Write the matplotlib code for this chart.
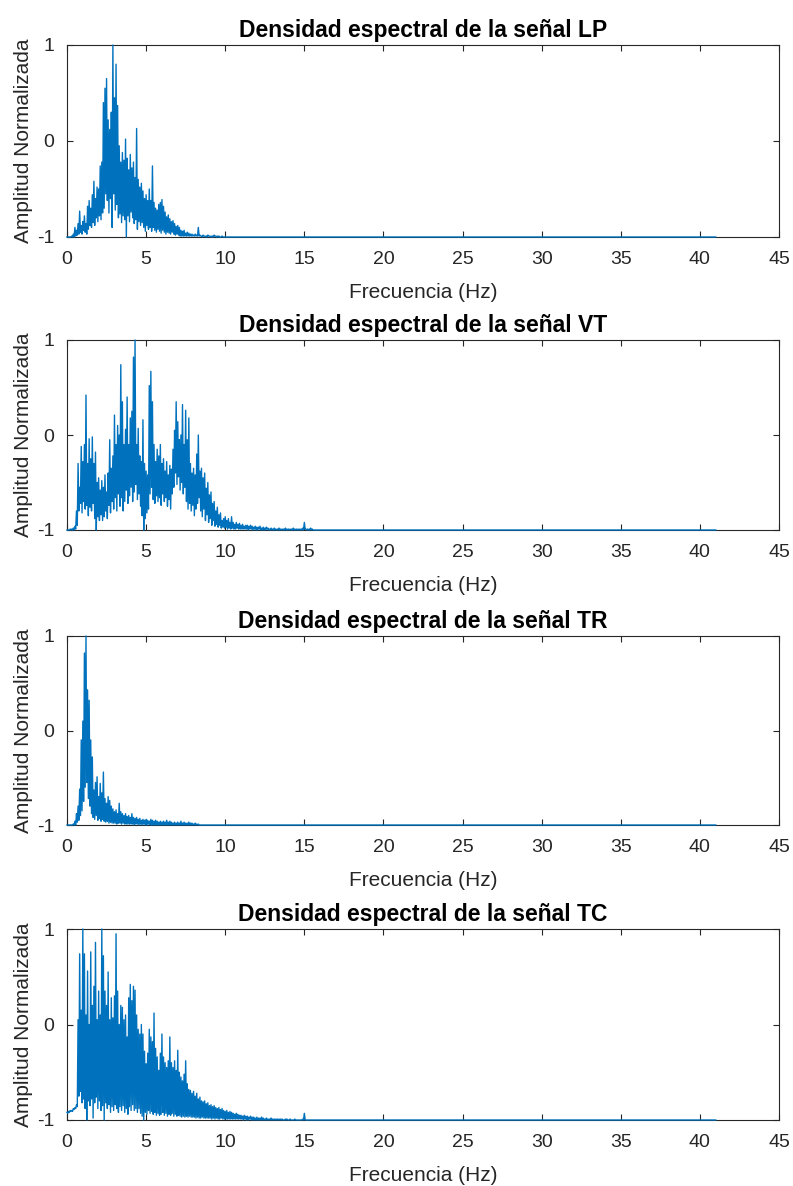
import numpy as np
from matplotlib import pyplot as plt

plt.rcParams['font.family'] = ['Liberation Sans', 'DejaVu Sans']
plt.rcParams['axes.unicode_minus'] = False

# espectros normalizados, paso de 0.1 Hz desde 0 Hz
# hi = envolvente superior, lo = envolvente inferior
df = 0.1
f_end = 41.0  # el espectro llega hasta ~41 Hz

hi_lp = [-1.00, -1.00, -1.00, -0.99, -0.97, -0.90, -0.93, -0.86, -0.73, -0.88,
         -0.84, -0.78, -0.86, -0.68, -0.62, -0.70, -0.56, -0.42, -0.60, -0.48,
         -0.50, -0.26, -0.22, 0.40, 0.55, 0.65, 0.22, 0.12, 0.30, 1.00,
         0.45, 0.80, 0.37, -0.05, -0.22, -0.12, -0.20, 0.02, -0.18, -0.30,
         -0.14, -0.28, -0.22, -0.38, 0.13, -0.40, -0.48, -0.44, -0.52, -0.60,
         -0.56, -0.62, -0.50, -0.62, -0.26, -0.64, -0.70, -0.72, -0.66, -0.64,
         -0.61, -0.68, -0.74, -0.79, -0.77, -0.81, -0.84, -0.83, -0.86, -0.89,
         -0.88, -0.90, -0.93, -0.94, -0.93, -0.96, -0.95, -0.96, -0.97, -0.97,
         -0.98, -0.97, -0.98, -0.90, -0.98, -0.99, -0.98, -0.99, -0.99, -0.98,
         -0.99, -0.99, -0.99, -0.98, -0.99, -0.99, -0.99, -1.00, -0.99, -1.00,
         -1.00]
lo_lp = [-1.00, -1.00, -1.00, -1.00, -1.00, -0.99, -0.98, -0.97, -0.95, -0.97,
         -0.93, -0.95, -0.97, -0.92, -0.88, -0.90, -0.85, -0.88, -0.80, -0.84,
         -0.78, -0.82, -0.75, -0.70, -0.55, -0.62, -0.75, -0.60, -0.90, -0.55,
         -0.72, -0.66, -0.80, -0.76, -0.85, -0.78, -0.82, -1.00, -0.78, -0.84,
         -0.74, -0.80, -0.86, -0.82, -0.92, -0.84, -0.88, -0.85, -0.90, -0.94,
         -0.88, -0.92, -0.90, -0.94, -0.90, -0.93, -0.95, -0.92, -0.94, -0.96,
         -0.93, -0.95, -0.97, -0.95, -0.96, -0.97, -0.95, -0.97, -0.98, -0.97,
         -0.98, -0.99, -0.99, -0.99, -0.99, -0.99, -0.99, -0.99, -0.99, -0.99,
         -0.99, -0.99, -0.99, -0.99, -0.99, -1.00, -0.99, -1.00, -1.00, -0.99,
         -1.00, -1.00, -1.00, -0.99, -1.00, -1.00, -1.00, -1.00, -1.00, -1.00,
         -1.00]

hi_vt = [-1.00, -1.00, -0.99, -0.99, -0.98, -0.96, -0.80, -0.30, -0.55, -0.12,
         -0.28, -0.10, 0.42, -0.30, -0.04, -0.25, -0.02, -0.30, -0.18, -0.50,
         -0.45, -0.58, -0.48, -0.55, -0.42, -0.60, -0.40, -0.05, -0.35, -0.22,
         0.21, -0.10, 0.10, 0.00, 0.74, 0.35, -0.10, 0.06, 0.40, -0.10,
         0.18, 0.25, 0.82, 1.00, -0.10, 0.07, -0.22, -0.28, 0.16, -0.30,
         -0.38, -0.42, 0.52, 0.67, 0.35, -0.10, -0.28, -0.15, -0.22, -0.10,
         -0.30, -0.25, -0.38, -0.28, -0.42, -0.32, -0.36, -0.15, 0.05, 0.35,
         0.14, -0.05, 0.00, 0.32, -0.10, 0.26, -0.05, 0.18, -0.30, -0.40,
         -0.35, -0.42, -0.20, 0.00, -0.38, -0.35, -0.45, -0.40, -0.56, -0.50,
         -0.63, -0.60, -0.72, -0.70, -0.80, -0.76, -0.84, -0.82, -0.90, -0.88,
         -0.86, -0.90, -0.88, -0.92, -0.86, -0.92, -0.94, -0.92, -0.94, -0.93,
         -0.95, -0.94, -0.96, -0.95, -0.95, -0.96, -0.95, -0.96, -0.97, -0.96,
         -0.97, -0.97, -0.96, -0.98, -0.97, -0.98, -0.97, -0.98, -0.99, -0.98,
         -0.99, -0.98, -0.99, -0.99, -0.98, -0.99, -0.99, -0.99, -0.98, -0.99,
         -0.99, -0.99, -0.99, -0.98, -0.99, -0.99, -0.99, -0.99, -0.99, -0.98,
         -0.92, -0.99, -0.99, -0.99, -0.98, -0.99, -1.00, -1.00, -1.00, -1.00,
         -1.00]
lo_vt = [-1.00, -1.00, -1.00, -1.00, -1.00, -0.99, -0.95, -0.80, -0.72, -0.82,
         -0.70, -0.78, -0.74, -0.85, -0.76, -0.80, -0.72, -0.88, -1.00, -0.86,
         -0.90, -0.84, -0.90, -0.86, -0.80, -0.88, -0.74, -0.82, -0.70, -0.78,
         -0.66, -0.80, -0.62, -0.75, -0.66, -0.80, -0.70, -0.58, -0.72, -0.64,
         -0.55, -0.70, -0.60, -0.52, -0.68, -0.62, -0.75, -0.85, -1.00, -0.88,
         -0.82, -0.78, -0.62, -0.55, -0.68, -0.72, -0.64, -0.70, -0.66, -0.74,
         -0.62, -0.70, -0.66, -0.75, -0.68, -0.78, -0.62, -0.55, -0.40, -0.52,
         -0.44, -0.58, -0.50, -0.62, -0.55, -0.70, -0.78, -0.72, -0.80, -0.74,
         -0.85, -0.78, -0.72, -0.66, -0.80, -0.86, -0.78, -0.90, -0.84, -0.92,
         -0.88, -0.95, -0.90, -0.96, -0.94, -0.97, -0.95, -0.98, -0.97, -0.98,
         -0.97, -0.99, -0.98, -0.99, -0.98, -0.99, -0.99, -0.98, -0.99, -0.99,
         -0.99, -0.99, -0.99, -0.99, -1.00, -0.99, -0.99, -1.00, -0.99, -1.00,
         -1.00, -0.99, -1.00, -1.00, -1.00, -1.00, -0.99, -1.00, -1.00, -1.00,
         -1.00, -1.00, -1.00, -1.00, -1.00, -1.00, -1.00, -1.00, -1.00, -1.00,
         -1.00, -1.00, -1.00, -1.00, -1.00, -1.00, -1.00, -1.00, -1.00, -1.00,
         -0.99, -1.00, -1.00, -1.00, -1.00, -1.00, -1.00, -1.00, -1.00, -1.00,
         -1.00]

hi_tr = [-1.00, -1.00, -1.00, -1.00, -0.99, -0.96, -0.88, -0.80, -0.62, -0.10,
         0.10, 0.82, 1.00, 0.43, 0.32, -0.10, -0.28, -0.63, -0.55, -0.49,
         -0.70, -0.56, -0.66, -0.44, -0.72, -0.77, -0.70, -0.74, -0.80, -0.83,
         -0.86, -0.84, -0.88, -0.77, -0.86, -0.88, -0.90, -0.88, -0.91, -0.90,
         -0.92, -0.88, -0.92, -0.93, -0.92, -0.94, -0.93, -0.95, -0.94, -0.95,
         -0.94, -0.95, -0.96, -0.94, -0.95, -0.96, -0.95, -0.96, -0.97, -0.96,
         -0.97, -0.96, -0.97, -0.95, -0.97, -0.96, -0.97, -0.98, -0.97, -0.98,
         -0.97, -0.98, -0.96, -0.98, -0.97, -0.98, -0.98, -0.97, -0.98, -0.98,
         -0.99, -0.98, -0.99, -0.99, -1.00, -1.00, -1.00, -1.00, -1.00, -1.00,
         -1.00]
lo_tr = [-1.00, -1.00, -1.00, -1.00, -1.00, -1.00, -0.97, -0.95, -0.90, -0.85,
         -0.75, -0.60, -0.55, -0.72, -0.80, -0.88, -0.92, -0.94, -0.90, -0.95,
         -0.93, -0.96, -0.94, -0.96, -0.97, -0.96, -0.98, -0.97, -0.98, -0.98,
         -0.98, -0.99, -0.98, -0.98, -0.99, -0.98, -0.99, -0.99, -0.99, -0.99,
         -0.99, -0.99, -1.00, -0.99, -0.99, -1.00, -0.99, -1.00, -0.99, -1.00,
         -1.00, -0.99, -1.00, -1.00, -1.00, -1.00, -1.00, -1.00, -1.00, -1.00,
         -1.00, -1.00, -1.00, -1.00, -1.00, -1.00, -1.00, -1.00, -1.00, -1.00,
         -1.00, -1.00, -1.00, -1.00, -1.00, -1.00, -1.00, -1.00, -1.00, -1.00,
         -1.00, -1.00, -1.00, -1.00, -1.00, -1.00, -1.00, -1.00, -1.00, -1.00,
         -1.00]

hi_tc = [-0.92, -0.91, -0.90, -0.90, -0.88, -0.87, -0.84, 0.05, 0.74, 0.15,
         1.00, 0.74, 0.10, 0.56, 0.00, 0.76, 0.20, 0.40, 0.86, 0.05,
         0.35, 0.10, 1.00, 0.72, 0.35, 0.20, 0.55, 0.05, 0.28, 0.07,
         0.30, 0.95, 0.35, 0.00, 0.20, 0.18, 0.05, 0.10, -0.13, 0.28,
         0.42, 0.25, 0.40, 0.36, 0.10, -0.05, -0.10, 0.00, -0.10, -0.28,
         -0.41, -0.30, -0.05, -0.13, -0.18, 0.12, -0.25, -0.34, -0.48, -0.30,
         -0.10, -0.34, -0.40, -0.45, -0.38, -0.13, -0.40, -0.45, -0.38, -0.48,
         -0.27, -0.50, -0.55, -0.59, -0.52, -0.38, -0.62, -0.68, -0.69, -0.72,
         -0.70, -0.75, -0.72, -0.78, -0.76, -0.80, -0.81, -0.80, -0.83, -0.82,
         -0.85, -0.84, -0.86, -0.85, -0.87, -0.88, -0.87, -0.89, -0.88, -0.90,
         -0.91, -0.90, -0.92, -0.91, -0.92, -0.93, -0.94, -0.93, -0.94, -0.95,
         -0.95, -0.96, -0.95, -0.96, -0.96, -0.97, -0.96, -0.97, -0.97, -0.98,
         -0.97, -0.98, -0.98, -0.97, -0.98, -0.99, -0.98, -0.99, -0.99, -0.98,
         -0.99, -0.99, -0.99, -0.99, -0.99, -0.99, -0.99, -1.00, -0.99, -0.99,
         -1.00, -0.99, -1.00, -1.00, -0.99, -1.00, -1.00, -1.00, -1.00, -0.99,
         -0.93]
lo_tc = [-0.93, -0.92, -0.91, -0.91, -0.89, -0.88, -0.86, -0.75, -0.70, -0.82,
         -0.78, -0.88, -1.00, -0.80, -0.85, -0.78, -0.98, -0.82, -0.76, -0.88,
         -0.80, -0.90, -0.85, -1.00, -0.82, -0.88, -0.84, -0.92, -0.86, -0.90,
         -0.84, -0.88, -0.92, -0.86, -0.90, -0.85, -0.92, -0.88, -0.94, -0.86,
         -0.90, -0.84, -0.90, -0.88, -0.92, -0.88, -0.93, -0.96, -1.00, -0.92,
         -0.94, -0.90, -0.93, -0.91, -0.94, -0.92, -0.95, -0.93, -0.95, -0.94,
         -0.92, -0.95, -0.93, -0.96, -0.94, -0.95, -0.93, -0.96, -0.94, -0.96,
         -0.95, -0.96, -0.97, -0.96, -0.97, -0.96, -0.97, -0.96, -0.97, -0.97,
         -0.97, -0.98, -0.97, -0.98, -0.98, -0.97, -0.98, -0.98, -0.98, -0.98,
         -0.98, -0.99, -0.98, -0.99, -0.98, -0.99, -0.99, -0.98, -0.99, -0.99,
         -0.99, -0.99, -0.99, -0.99, -0.99, -0.99, -0.99, -0.99, -0.99, -0.99,
         -0.99, -1.00, -0.99, -1.00, -1.00, -0.99, -1.00, -1.00, -1.00, -1.00,
         -1.00, -1.00, -1.00, -1.00, -1.00, -1.00, -1.00, -1.00, -1.00, -1.00,
         -1.00, -1.00, -1.00, -1.00, -1.00, -1.00, -1.00, -1.00, -1.00, -1.00,
         -1.00, -1.00, -1.00, -1.00, -1.00, -1.00, -1.00, -1.00, -1.00, -1.00,
         -1.00]

senales = ['LP', 'VT', 'TR', 'TC']
espectros = [(hi_lp, lo_lp), (hi_vt, lo_vt), (hi_tr, lo_tr), (hi_tc, lo_tc)]

x_ticks = [0, 5, 10, 15, 20, 25, 30, 35, 40, 45]
y_ticks = [-1, 0, 1]

color_linea = '#0072BD'
color_ejes = '#262626'

W, H = 793, 1186
fig = plt.figure(figsize=(W / 100, H / 100), dpi=100)

# posiciones de los ejes en pixeles (izq, arriba, der, abajo)
cajas = [(67, 45, 779, 237), (67, 340, 779, 530), (67, 636, 779, 825), (67, 929, 779, 1120)]

for i, nombre in enumerate(senales):
    x0, y0, x1, y1 = cajas[i]
    ax = fig.add_axes([x0 / W, 1 - y1 / H, (x1 - x0) / W, (y1 - y0) / H])

    hi, lo = espectros[i]
    f = np.arange(len(hi)) * df
    x = np.empty(2 * len(hi))
    y = np.empty(2 * len(hi))
    x[0::2] = f
    x[1::2] = f + df / 2
    y[0::2] = hi
    y[1::2] = lo
    x = np.append(x, f_end)
    y = np.append(y, -1.0)

    ax.plot(x, y, color=color_linea, lw=1.0, zorder=3, clip_on=False)

    ax.set_xlim(0, 45)
    ax.set_ylim(-1, 1)
    ax.set_xticks(x_ticks)
    ax.set_yticks(y_ticks)
    ax.set_yticklabels(['-1', '0', '1'])

    for s in ax.spines.values():
        s.set_color(color_ejes)
        s.set_linewidth(0.8)
    ax.tick_params(direction='in', top=True, right=True, length=4, width=0.8,
                   color=color_ejes, labelcolor=color_ejes, labelsize=14)
    ax.tick_params(axis='x', pad=10)
    ax.tick_params(axis='y', pad=9)

    ax.set_title('Densidad espectral de la señal ' + nombre, fontsize=16.5,
                 fontweight='bold', color='black', pad=6)
    ax.set_xlabel('Frecuencia (Hz)', fontsize=15, color=color_ejes, labelpad=11)
    ax.set_ylabel('Amplitud Normalizada', fontsize=15, color=color_ejes, labelpad=3)

fig.savefig('out.png', dpi=100)
